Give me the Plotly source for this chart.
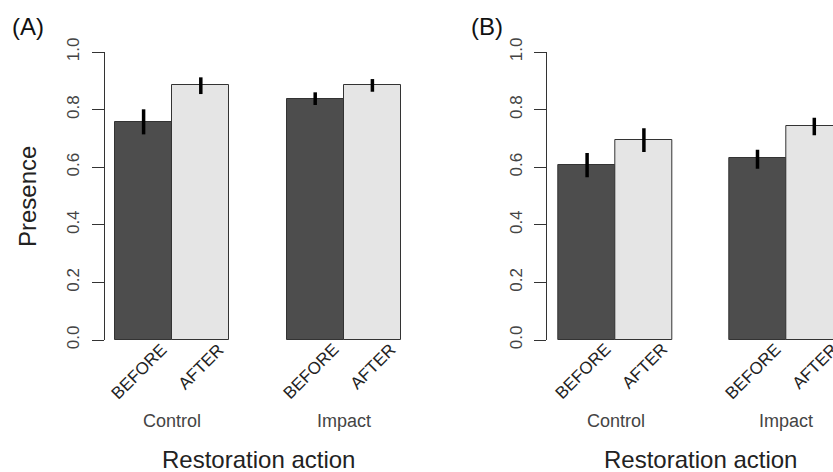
import plotly.graph_objects as go

# ---- data ----
groups = ["Control", "Control", "Impact", "Impact"]
periods = ["BEFORE", "AFTER", "BEFORE", "AFTER"]
xpos = [1.5, 2.5, 4.5, 5.5]
group_centers = [2.0, 5.0]
group_names = ["Control", "Impact"]

A_mean = [0.756, 0.885, 0.837, 0.885]
A_upper = [0.801, 0.912, 0.860, 0.906]
A_lower = [0.714, 0.854, 0.816, 0.862]

B_mean = [0.609, 0.693, 0.631, 0.742]
B_upper = [0.649, 0.735, 0.661, 0.772]
B_lower = [0.565, 0.653, 0.595, 0.711]

yticks = [0.0, 0.2, 0.4, 0.6, 0.8, 1.0]
ytick_text = ["0.0", "0.2", "0.4", "0.6", "0.8", "1.0"]

colors = ["#4d4d4d", "#e5e5e5", "#4d4d4d", "#e5e5e5"]

W, H = 833, 472
FONT = "Liberation Sans, Arial, sans-serif"


def px_x(p):
    return p / W


def px_y(p):
    return 1 - p / H


fig = go.Figure()

panels = [
    ("x", "y", A_mean, A_upper, A_lower),
    ("x2", "y2", B_mean, B_upper, B_lower),
]
for xa, ya, m, up, lo in panels:
    fig.add_trace(go.Bar(
        x=xpos, y=m, width=1.0, xaxis=xa, yaxis=ya,
        marker=dict(color=colors, line=dict(color="#333333", width=1)),
        error_y=dict(type="data", symmetric=False,
                     array=[u - v for u, v in zip(up, m)],
                     arrayminus=[v - l for v, l in zip(m, lo)],
                     color="black", thickness=3.5, width=0),
        showlegend=False, hoverinfo="skip",
    ))

yd = [px_y(340), px_y(52)]
# panel A: x=1 at 115px, 57.2 px/unit, axis at 105px
a_l, a_r, a_u = 105, 415, 57.2
# panel B: x=1 at 558.7px, 56.8 px/unit, axis at 547.3px
b_l, b_r, b_u = 547.3, 833, 56.8

yaxis_common = dict(
    range=[0, 1], tickvals=yticks, ticktext=ytick_text, tickangle=-90,
    showline=True, linecolor="#333333", linewidth=1,
    ticks="outside", ticklen=12, tickcolor="#333333", tickwidth=1,
    showgrid=False, zeroline=False, ticklabelstandoff=6, automargin=False,
    tickfont=dict(family=FONT, size=17, color="#444444"),
)
xaxis_common = dict(showgrid=False, zeroline=False, showline=False,
                    showticklabels=False, ticks="", automargin=False)

fig.update_layout(
    width=W, height=H,
    margin=dict(l=0, r=0, t=0, b=0, autoexpand=False),
    paper_bgcolor="white", plot_bgcolor="white",
    bargap=0,
    xaxis=dict(domain=[px_x(a_l), px_x(a_r)],
               range=[1 - (115 - a_l) / a_u, 1 + (a_r - 115) / a_u],
               **xaxis_common),
    xaxis2=dict(domain=[px_x(b_l), px_x(b_r)],
                range=[1 - (558.7 - b_l) / b_u, 1 + (b_r - 558.7) / b_u],
                **xaxis_common),
    yaxis=dict(domain=yd, anchor="x", **yaxis_common),
    yaxis2=dict(domain=yd, anchor="x2", **yaxis_common),
)

ann = []
for xa in ["x", "x2"]:
    for x, p in zip(xpos, periods):
        ann.append(dict(x=x, y=px_y(337), xref=xa, yref="paper",
                        text=p, textangle=-45, showarrow=False,
                        xanchor="right", yanchor="top", xshift=30,
                        font=dict(family=FONT, size=17, color="#222222")))
    for x, g in zip(group_centers, group_names):
        ann.append(dict(x=x, y=px_y(421), xref=xa, yref="paper",
                        text=g, showarrow=False, xanchor="center",
                        yanchor="middle",
                        font=dict(family=FONT, size=18, color="#444444")))
    ann.append(dict(x=3.5, y=px_y(459), xref=xa, yref="paper",
                    text="Restoration action", showarrow=False,
                    xanchor="center", yanchor="middle",
                    font=dict(family=FONT, size=24, color="#222222")))

ann.append(dict(x=px_x(27), y=px_y(197), xref="paper", yref="paper",
                text="Presence", textangle=-90, showarrow=False,
                xanchor="center", yanchor="middle",
                font=dict(family=FONT, size=24, color="#222222")))
ann.append(dict(x=px_x(28), y=px_y(27), xref="paper", yref="paper",
                text="(A)", showarrow=False, xanchor="center", yanchor="middle",
                font=dict(family=FONT, size=24, color="#111111")))
ann.append(dict(x=px_x(487), y=px_y(27), xref="paper", yref="paper",
                text="(B)", showarrow=False, xanchor="center", yanchor="middle",
                font=dict(family=FONT, size=24, color="#111111")))
fig.update_layout(annotations=ann)

fig.write_html(
    "out.html",
    config={"displayModeBar": False},
    post_script="document.body.style.margin='0';document.body.style.overflow='hidden';",
)
